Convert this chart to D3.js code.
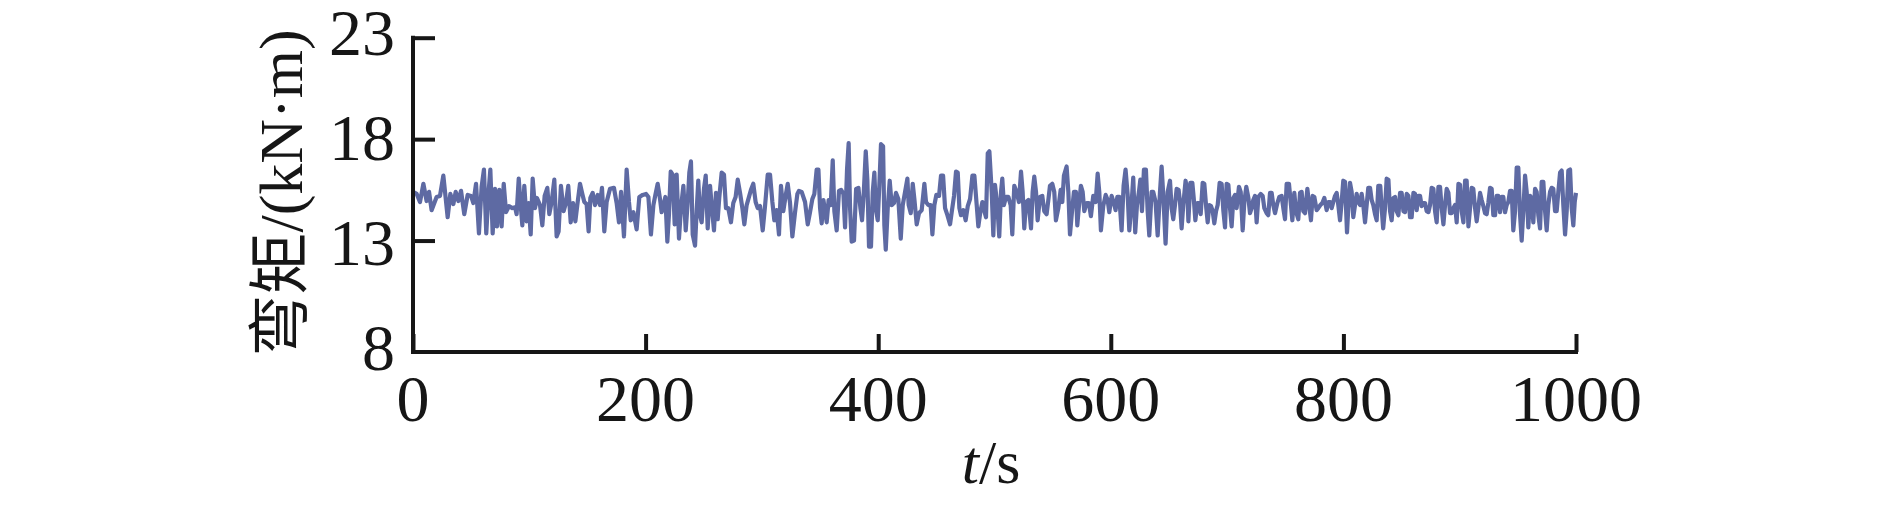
<!DOCTYPE html>
<meta charset="utf-8">
<script src="https://d3js.org/d3.v7.min.js"></script>
<style>
  body { margin: 0; background: #fff; }
</style>
<div id="chart"></div>
<script>

// time (s) and bending moment (kN·m)
var times = [
  0, 3.2, 6.0, 8.9, 11.7, 13.8, 16.0, 20.3, 23.2, 26.1, 29.8, 32.1, 34.7, 36.7, 39.0, 41.3, 44.1, 47.0, 49.9, 51.9,
  54.2, 56.7, 59.0, 61.0, 63.0, 64.8, 66.5, 68.5, 70.5, 72.2, 74.2, 76.2, 78.0, 80.0, 82.5, 85.4, 87.7, 89.1, 90.9, 92.6,
  94.0, 95.7, 97.7, 99.4, 101.2, 102.9, 104.9, 106.6, 109.2, 111.2, 113.2, 115.5, 117.2, 119.2, 121.5, 123.5, 125.2, 127.2, 129.5, 131.5,
  133.5, 135.6, 137.6, 139.6, 141.6, 143.6, 145.6, 147.3, 149.3, 151.0, 152.5, 154.5, 156.5, 158.8, 160.8, 162.5, 164.5,
  166.5, 169.4, 172.8, 175.1, 177.1, 178.9, 181.4, 183.7, 185.7, 187.2, 189.5, 192.3, 194.6, 197.5, 200.4, 202.4, 204.6, 206.7, 208.4, 210.4,
  212.4, 213.8, 215.5, 217.0, 218.7, 220.1, 221.6, 223.3, 225.0, 226.7, 228.7, 230.4, 232.5, 234.5, 236.2, 237.6, 239.0, 240.5, 242.5, 243.9,
  245.3, 246.8, 248.2, 250.2, 251.7, 253.4, 255.4, 257.1, 258.8, 260.5, 262.0, 263.4, 265.4, 267.4, 269.1, 271.1, 273.4, 275.4, 277.4, 279.2,
  281.2, 283.2, 284.9, 286.9, 288.9, 290.6, 292.6, 294.6, 296.4, 298.4, 300.7, 302.7, 305.0, 307.0, 309.0, 310.7, 312.7, 314.7, 316.4, 318.4,
  320.4, 322.2, 324.2, 326.2, 328.5, 330.5,
  331.9, 334.2, 337.1, 339.4, 341.4, 343.4, 345.1, 347.1, 348.6, 350.0, 351.4, 352.9, 354.3, 355.7, 357.4, 359.2, 360.9, 362.3, 364.3, 366.3,
  368.1, 370.1, 371.5, 373.2, 374.6, 375.8, 377.2, 379.2, 381.0, 383.0, 384.7, 386.1, 387.5, 389.3, 390.7, 392.1, 393.8, 395.3, 396.7, 397.9,
  399.6, 401.0, 402.4, 404.2, 405.3, 406.5, 408.2, 409.9, 411.6, 413.6, 415.3, 417.3, 419.4, 421.1, 423.1, 425.1, 426.2, 428.0, 429.7, 431.1,
  433.1, 435.1, 437.4, 439.7, 441.1, 443.1, 445.1, 446.6, 448.3, 450.0, 452.3, 454.0, 455.8, 457.5, 459.5, 461.8, 463.2, 465.2, 466.9, 468.4,
  469.8, 471.2, 473.2, 475.2, 477.0, 479.0, 481.0, 482.7, 484.7, 486.1, 487.8, 489.6, 491.3, 492.7, 494.2, 495.6, 497.6, 499.0,
  500.4, 502.4, 504.1, 505.6, 506.7, 508.1, 509.9, 511.9, 513.9, 515.3, 517.0, 519.0, 521.0, 522.8, 524.2, 525.6, 527.1, 529.1, 531.4, 532.8,
  534.2, 535.7, 537.1, 539.1, 541.1, 542.8, 544.8, 546.5, 547.7, 549.7, 551.4, 552.8, 554.9, 556.9, 558.3, 559.7, 562.0, 563.5, 564.9, 566.9,
  568.3, 570.0, 571.2, 572.9, 574.3, 575.8, 577.2, 579.2, 581.2, 582.9, 584.9, 587.0, 588.7, 590.1, 591.5, 593.5, 595.6, 597.3, 598.7, 600.7,
  602.7, 604.1, 605.6, 607.3, 609.3, 611.0, 612.7, 614.5, 615.9, 617.9, 619.3, 621.0, 622.5, 624.2, 625.4, 626.8, 628.5, 630.2, 631.7, 633.1,
  635.1, 636.5, 638.5, 640.3, 642.3, 643.7, 645.1, 647.1, 648.9, 650.9, 652.3, 653.7, 655.2, 656.6, 658.3, 659.5, 660.9, 662.3, 664.3, 665.8,
  666.7, 668.4, 670.1, 671.3, 672.7, 674.4, 675.8, 677.3, 679.0, 680.4, 682.1, 683.3, 684.7, 686.2, 687.6, 689.0, 690.5, 691.9, 693.6, 695.3,
  696.8, 698.2, 699.6, 701.1, 702.5, 703.9, 705.4, 706.8, 708.2, 710.2, 711.7, 713.4, 714.8, 716.5, 718.3, 719.7, 721.1, 722.5, 724.0, 725.4,
  726.9, 728.9, 730.6, 732.0, 734.0, 735.4, 736.9, 738.3, 739.7, 741.2, 743.2, 744.9, 746.9, 748.6, 749.8, 751.2, 753.2, 754.9, 756.1, 757.8,
  759.2, 761.2, 762.7, 764.1, 765.5, 767.0, 769.0, 770.4, 772.1, 773.6, 775.0, 777.0, 778.4, 780.2, 781.9, 783.6, 785.6, 787.0, 788.8, 789.9,
  791.3, 792.8, 794.2, 795.6, 797.1, 798.5, 799.9, 801.4, 803.1, 804.2, 805.7, 807.1, 808.5, 810.0, 811.4, 812.8, 814.3, 815.7, 817.1, 818.6,
  820.0, 821.4, 822.9, 824.3, 825.7, 827.2, 828.6, 830.0, 831.7, 832.9, 834.2,
  835.8, 837.2, 838.7, 840.1, 841.5, 843.0, 844.4, 845.8, 847.3, 848.7, 850.1, 851.6, 853.0, 854.4, 855.9, 857.3, 858.7, 860.2, 861.6, 863.0,
  864.5, 865.9, 867.3, 868.8, 870.2, 871.6, 873.1, 874.5, 875.9, 877.4, 878.8, 880.2, 881.7, 883.1, 884.5, 886.0, 887.4, 888.8, 890.3, 891.7,
  893.1, 894.6, 896.0, 897.4, 898.9, 900.3, 901.7, 903.2, 904.6, 906.0, 907.5, 908.9, 910.3, 911.7, 913.2, 914.6, 916.0, 917.5, 918.9, 920.3,
  921.8, 923.2, 924.6, 926.1, 927.5, 928.9, 930.4, 931.8, 933.2, 934.7, 936.1, 937.5, 939.0, 940.4, 941.8, 943.3, 944.7, 946.1, 947.6, 949.0,
  950.4, 951.9, 953.3, 954.7, 956.2, 957.6, 959.0, 960.5, 961.9, 963.3, 964.8, 966.2, 967.6, 969.1, 970.5, 971.9, 973.4, 974.8, 976.2, 977.7,
  979.1, 980.5, 982.0, 983.4, 984.8, 986.3, 987.7, 989.1, 990.6, 992.0, 993.4, 994.9, 996.3, 997.7, 998.9, 1000
];
var moment = [
  15.4, 15.3, 14.9, 15.8, 14.95, 15.4, 14.5, 15.15, 15.2, 16.2, 14.15, 15.3, 14.8, 15.4, 14.95, 15.45, 14.3, 15.25, 15.2, 14.85,
  15.8, 13.35, 15.65, 16.5, 13.35, 15.25, 16.5, 13.35, 15.55, 13.7, 15.5, 13.7, 15.8, 14.4, 14.7, 14.6, 14.65, 14.3, 16.05, 14.75,
  13.75, 15.7, 13.95, 14.85, 13.3, 16.05, 14.6, 15.1, 14.75, 13.75, 15.2, 15.6, 14.3, 14.9, 16.0, 13.2, 13.45, 15.7, 14.45, 14.85,
  15.7, 13.9, 14.85, 13.95, 14.9, 15.8, 15.3, 14.9, 14.8, 13.45, 15.1, 15.35, 14.75, 15.25, 14.75, 15.6, 13.45,
  14.9, 15.55, 15.6, 14.85, 13.9, 15.4, 13.2, 16.5, 14.9, 14.0, 14.4, 13.55, 15.15, 15.25, 15.3, 15.15, 13.3, 14.75, 15.25, 15.8,
  15.05, 14.4, 14.75, 15.15, 12.95, 14.3, 16.4, 16.25, 13.8, 16.25, 13.1, 14.6, 15.7, 13.5, 14.9, 16.35, 16.9, 13.3, 12.75, 14.45,
  15.95, 14.25, 13.9, 15.55, 16.2, 13.6, 15.7, 14.55, 13.5, 15.35, 14.05, 15.15, 16.35, 16.25, 14.6, 14.6, 13.9, 14.85, 15.15, 16.0,
  15.35, 14.6, 13.8, 14.75, 15.15, 15.5, 15.8, 14.9, 14.6, 14.7, 13.5, 14.7, 16.25, 16.25, 14.9, 14.0, 14.5, 13.3, 15.7, 14.45,
  15.2, 15.8, 14.85, 13.2, 14.4, 15.3,
  15.45, 15.4, 14.9, 13.8, 14.4, 15.05, 15.3, 16.5, 16.5, 14.6, 13.85, 15.0, 14.45, 13.9, 15.0, 14.75, 16.95, 14.45, 13.5, 15.45,
  15.5, 15.3, 13.65, 16.5, 17.8, 14.6, 12.95, 13.0, 15.55, 15.6, 14.6, 14.0, 15.25, 17.4, 15.95, 12.7, 12.7, 15.4, 16.35, 14.6,
  14.0, 15.75, 17.75, 17.65, 13.75, 12.55, 14.6, 15.95, 14.75, 14.85, 15.35, 15.05, 13.1, 14.75, 15.4, 16.05, 14.75, 14.35, 15.8, 15.05,
  13.8, 14.35, 14.5, 15.8, 14.9, 14.75, 14.75, 13.3, 14.75, 15.25, 15.2, 16.2, 16.2, 14.6, 14.25, 13.8, 14.4, 15.2, 16.4, 16.35,
  14.6, 14.25, 14.5, 14.0, 14.7, 15.05, 16.2, 16.2, 14.75, 13.7, 14.4, 14.9, 14.45, 14.15, 17.3, 17.4, 15.4, 13.25,
  15.75, 14.75, 13.2, 15.4, 16.05, 14.75, 15.15, 15.15, 14.75, 13.3, 15.7, 15.4, 14.9, 16.4, 15.4, 13.6, 14.9, 15.0, 13.6, 15.4,
  16.15, 15.4, 14.0, 15.15, 15.2, 14.45, 14.3, 15.1, 15.7, 15.8, 15.4, 14.0, 14.6, 15.5, 14.9, 16.2, 16.65, 15.4, 13.3, 14.6,
  15.4, 15.4, 13.75, 14.9, 15.7, 15.4, 14.45, 14.85, 14.85, 14.2, 15.2, 14.9, 16.3, 15.4, 13.5, 14.7, 15.25, 15.0, 14.4, 15.2,
  14.85, 14.5, 15.15, 15.15, 13.5, 15.7, 16.5, 15.25, 13.5, 14.85, 16.1, 13.4, 14.75, 15.4, 16.0, 14.45, 16.5, 16.5, 14.45, 13.25,
  15.4, 15.4, 14.9, 13.25, 15.4, 16.65, 15.25, 12.85, 15.4, 15.95, 14.6, 14.05, 14.75, 15.55, 15.5, 14.9, 13.6, 14.75, 15.95, 15.4,
  13.95, 15.85, 15.85, 15.1, 14.0, 14.85, 14.85, 14.3, 15.85, 15.8, 14.6, 13.9, 14.75, 14.7, 14.45, 13.85, 14.45, 14.75, 15.85, 15.8,
  14.45, 13.65, 15.8, 15.75, 14.6, 13.7, 15.1, 15.25, 14.6, 15.65, 15.4, 13.5, 14.9, 15.65, 15.1, 14.35, 14.6, 15.0, 15.2, 13.9,
  15.15, 15.3, 15.2, 14.6, 14.35, 14.25, 15.35, 15.35, 14.75, 14.35, 14.85, 15.15, 15.2, 14.5, 14.05, 15.8, 15.8, 14.75, 14.0, 15.35,
  14.45, 14.05, 15.35, 15.4, 14.45, 14.35, 15.55, 14.85, 14.0, 15.2, 15.15, 14.5, 14.6, 14.75, 14.85, 15.1, 14.5, 14.9, 14.9, 14.6,
  14.9, 15.2, 15.35, 14.75, 14.0, 14.9, 15.95, 15.9, 13.4, 14.6, 15.85, 15.4, 14.15, 14.75, 15.3, 14.9, 14.75, 15.3, 14.75, 13.9,
  14.75, 15.6, 15.6, 15.0, 14.75, 14.3, 14.0, 15.7, 15.7, 14.6, 13.6,
  14.6, 16.05, 16.0, 14.45, 14.0, 15.1, 15.15, 14.45, 14.25, 15.35, 15.35, 14.45, 14.4, 15.3, 15.2, 14.15, 14.15, 15.35, 15.3, 14.5,
  15.2, 15.2, 14.7, 14.85, 14.85, 14.45, 14.4, 14.75, 15.6, 15.55, 14.45, 13.9, 15.65, 15.65, 14.6, 13.8, 14.75, 15.55, 15.35, 14.35,
  14.35, 14.6, 14.75, 13.9, 15.8, 15.75, 14.45, 13.9, 15.95, 15.95, 13.7, 14.6, 15.6, 15.55, 14.6, 13.95, 14.6, 15.35, 15.0, 14.7,
  14.35, 14.3, 14.85, 15.6, 15.55, 14.25, 14.25, 15.2, 15.2, 14.4, 15.15, 15.15, 14.4, 14.75, 14.9, 15.45, 15.45, 13.5, 14.45, 16.6,
  16.6, 14.25, 13.0, 14.45, 16.2, 15.4, 13.65, 15.2, 15.1, 13.9, 15.55, 15.4, 14.25, 13.6, 15.9, 15.9, 14.45, 13.5, 14.75, 15.4,
  15.6, 15.55, 14.45, 14.45, 15.4, 16.35, 16.45, 14.75, 13.3, 14.45, 16.45, 16.5, 14.6, 13.75, 14.9, 15.35
];

var xTicks = [0, 200, 400, 600, 800, 1000];
var yTicks = [8, 13, 18, 23];

var width = 1890, height = 514;
var axisColor = "#161616";
var lineColor = "#5e6aa3";
var serif = "'Liberation Serif', 'Times New Roman', serif";

var svg = d3.select("#chart")
  .append("svg")
    .attr("width", width)
    .attr("height", height)
    .style("background", "#fff");

// scales
var x = d3.scaleLinear().domain([0, 1000]).range([413, 1576]);
var y = d3.scaleLinear().domain([8, 23]).range([342, 37.7]);
// tick labels in the figure sit a bit more spread than the ticks
var yLabel = d3.scaleLinear().domain([8, 23]).range([370, 55]);
var xAxisY = 352;

// data line
var data = times.map(function(t, i) { return {t: t, v: moment[i]}; });
var line = d3.line()
  .x(function(d) { return x(d.t); })
  .y(function(d) { return y(d.v); });

svg.append("path")
  .datum(data)
  .attr("d", line)
  .attr("fill", "none")
  .attr("stroke", lineColor)
  .attr("stroke-width", 4.2)
  .attr("stroke-linejoin", "round");

// y axis: ticks pointing inwards
var gy = svg.append("g")
  .attr("transform", "translate(" + x(0) + ",0)")
  .call(d3.axisRight(y).tickValues(yTicks.slice(1)).tickSize(22).tickSizeOuter(0).tickFormat(""));
gy.select(".domain").remove();
gy.selectAll("line").attr("stroke", axisColor).attr("stroke-width", 4);

svg.append("line")
  .attr("x1", x(0)).attr("x2", x(0))
  .attr("y1", y(23) - 2).attr("y2", xAxisY + 2)
  .attr("stroke", axisColor).attr("stroke-width", 4);

svg.selectAll("yLabels")
  .data(yTicks)
  .enter()
  .append("text")
    .attr("x", x(0) - 18)
    .attr("y", function(d) { return yLabel(d); })
    .attr("text-anchor", "end")
    .style("font-family", serif)
    .style("font-size", "66px")
    .style("fill", axisColor)
    .text(function(d) { return d; });

// x axis
var gx = svg.append("g")
  .attr("transform", "translate(0," + xAxisY + ")")
  .call(d3.axisTop(x).tickValues(xTicks).tickSize(18).tickSizeOuter(0).tickFormat(""));
gx.select(".domain").remove();
gx.selectAll("line").attr("stroke", axisColor).attr("stroke-width", 4);

svg.append("line")
  .attr("x1", x(0) - 2).attr("x2", x(1000) + 2)
  .attr("y1", xAxisY).attr("y2", xAxisY)
  .attr("stroke", axisColor).attr("stroke-width", 4);

svg.selectAll("xLabels")
  .data(xTicks)
  .enter()
  .append("text")
    .attr("x", function(d) { return x(d); })
    .attr("y", 421)
    .attr("text-anchor", "middle")
    .style("font-family", serif)
    .style("font-size", "66px")
    .style("fill", axisColor)
    .text(function(d) { return d; });

// axis titles
var xt = svg.append("text")
  .attr("x", 991)
  .attr("y", 483)
  .attr("text-anchor", "middle")
  .style("font-family", serif)
  .style("font-size", "62px")
  .style("fill", axisColor);
xt.append("tspan").style("font-style", "italic").text("t");
xt.append("tspan").text("/s");

svg.append("text")
  .attr("transform", "translate(302,193) rotate(-90)")
  .attr("text-anchor", "middle")
  .style("font-family", "'Liberation Serif', 'Noto Sans CJK SC', serif")
  .style("font-size", "62px")
  .style("fill", axisColor)
  .text("弯矩/(kN·m)");

</script>
